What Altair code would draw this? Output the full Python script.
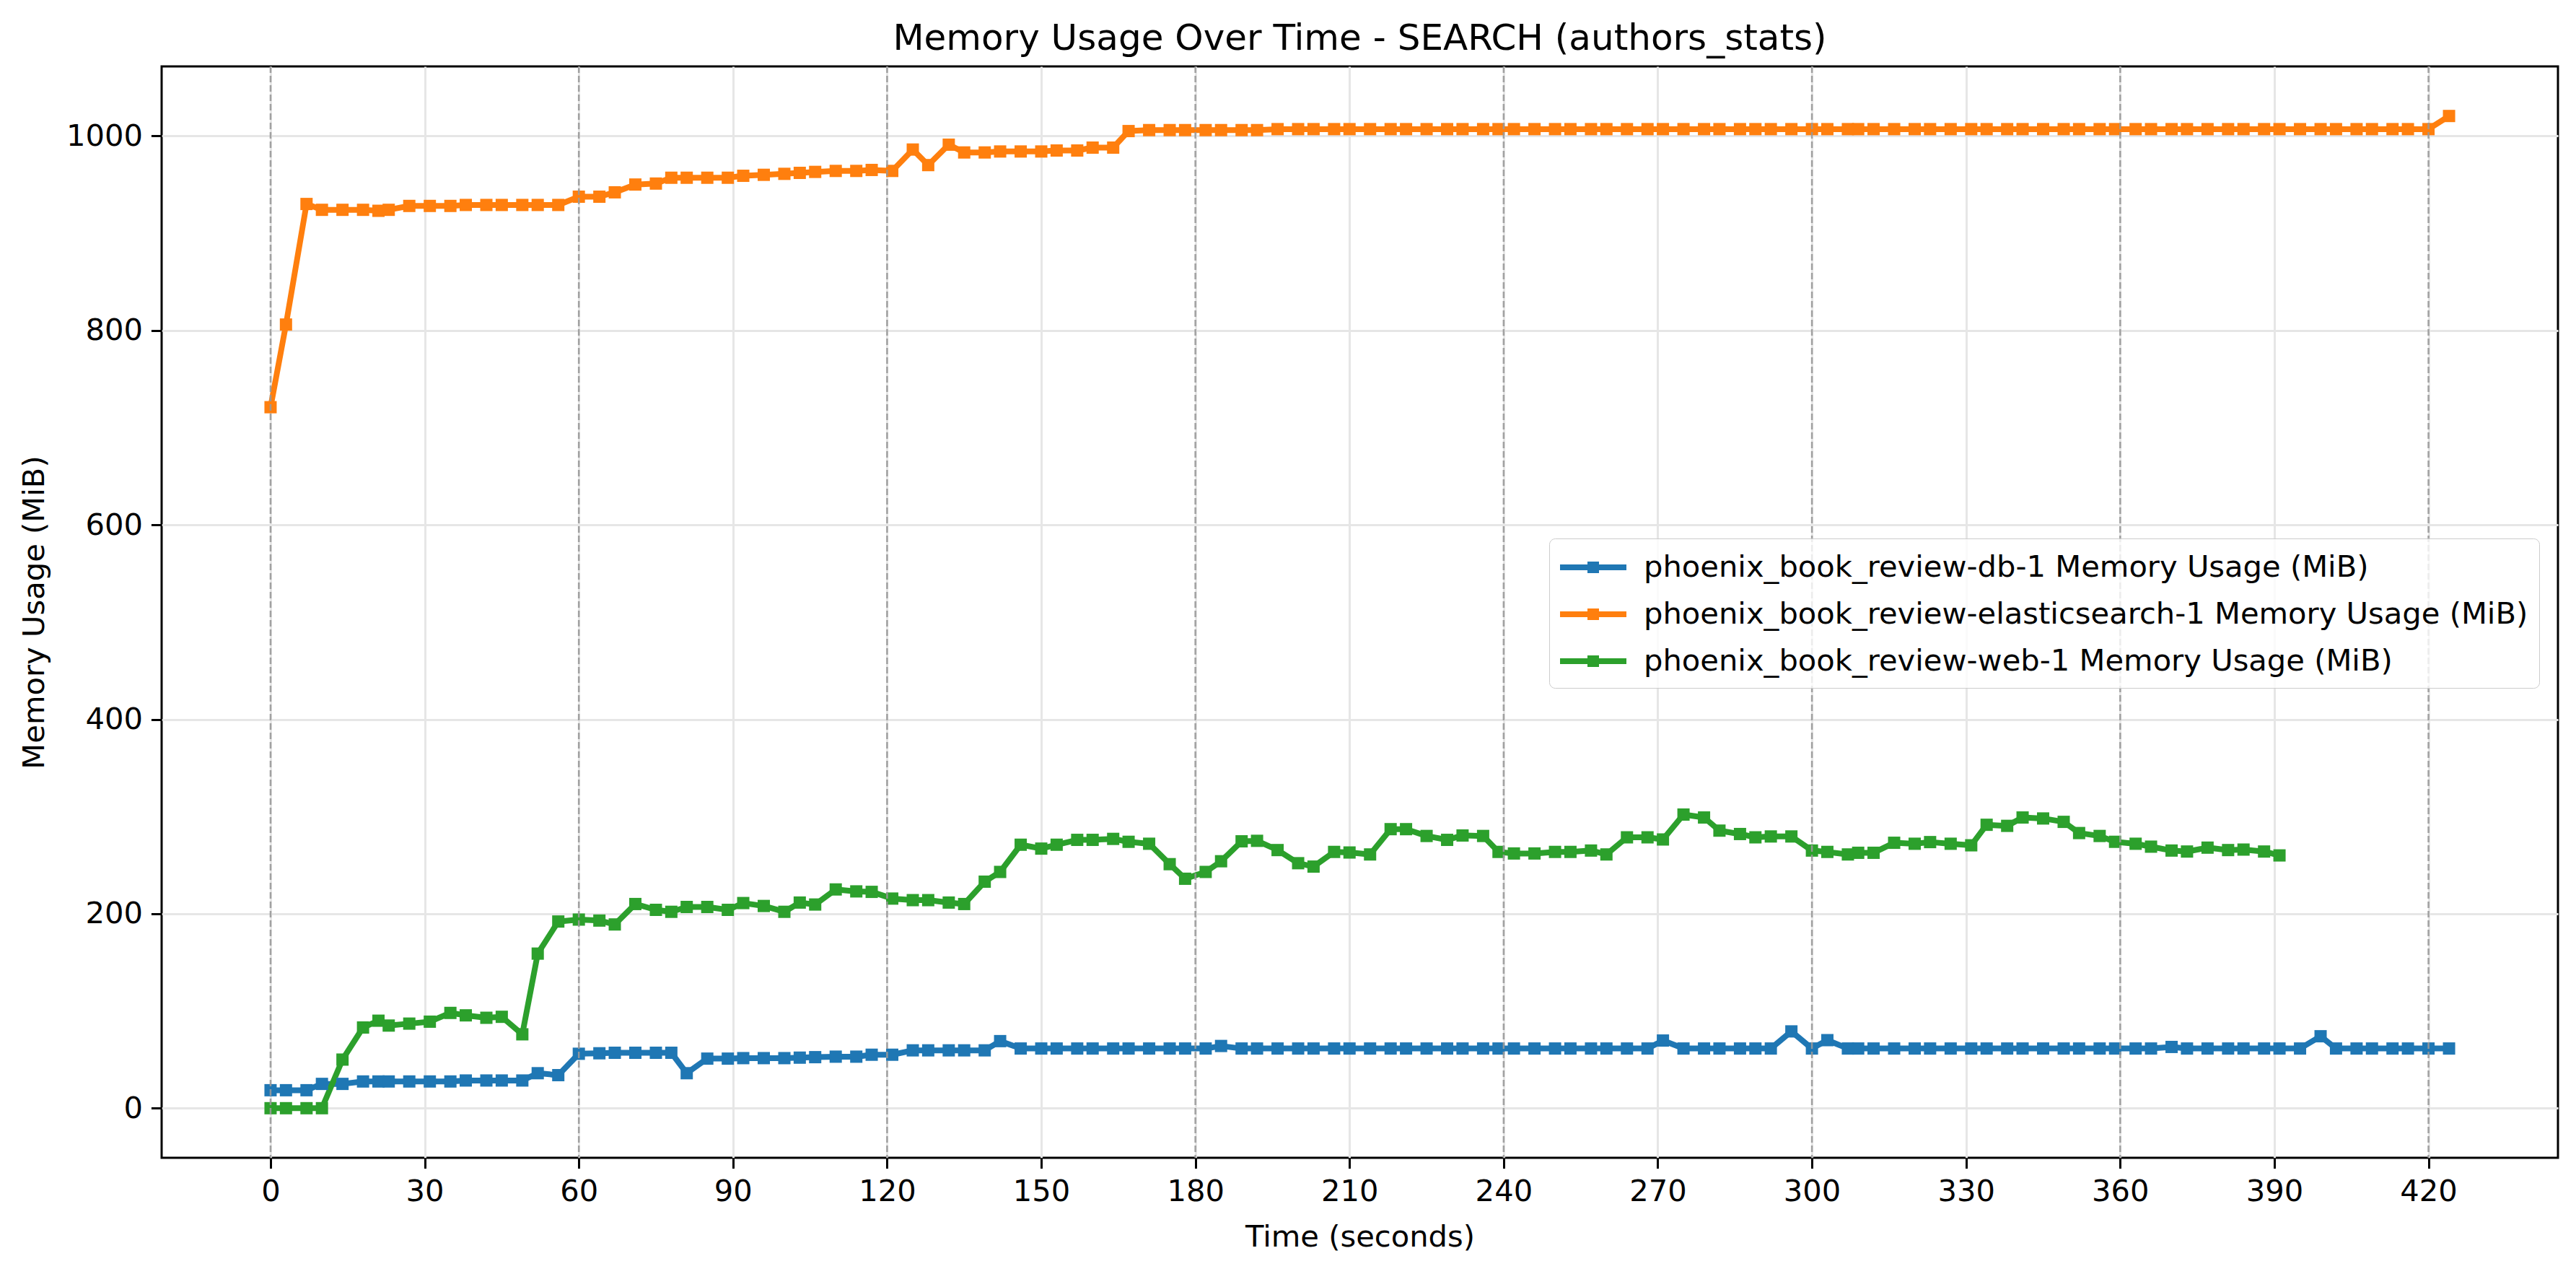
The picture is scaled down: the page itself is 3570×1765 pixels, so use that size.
import altair as alt
import pandas as pd

# Shared sample times (seconds)
times = [0, 3, 7, 10, 14, 18, 21, 23, 27, 31, 35, 38, 42, 45, 49, 52, 56, 60, 64, 67,
         71, 75, 78, 81, 85, 89, 92, 96, 100, 103, 106, 110, 114, 117, 121, 125, 128, 132, 135, 139,
         142, 146, 150, 153, 157, 160, 164, 167, 171, 175, 178, 182, 185, 189, 192, 196, 200, 203, 207, 210,
         214, 218, 221, 225, 229, 232, 236, 239, 242, 246, 250, 253, 257, 260, 264, 268, 271, 275, 279, 282,
         286, 289, 292, 296, 300, 303, 307, 309, 312, 316, 320, 323, 327, 331, 334, 338, 341, 345, 349, 352,
         356, 359, 363, 366, 370, 373, 377, 381, 384, 388, 391, 395, 399, 402, 406, 409, 413, 416, 420, 424]

db_mem = [18.5, 18.5, 18.5, 25, 25, 27.5, 27.5, 27.5, 27.5, 27.5, 27.5, 28.5, 28.5, 28.5, 28.5, 36, 34, 56, 56.5, 57,
          57, 57, 57, 36, 51, 51, 51.5, 51.5, 51.5, 52, 52.5, 53, 53, 55, 55, 59.5, 59.5, 59.5, 59.5, 59.5,
          69, 61.4, 61.4, 61.4, 61.4, 61.4, 61.4, 61.4, 61.4, 61.4, 61.4, 61.4, 64, 61.4, 61.4, 61.4, 61.4, 61.4, 61.4, 61.4,
          61.4, 61.4, 61.4, 61.4, 61.4, 61.4, 61.4, 61.4, 61.4, 61.4, 61.4, 61.4, 61.4, 61.4, 61.4, 61.4, 69.6, 61.4, 61.4, 61.4,
          61.4, 61.4, 61.4, 79, 61.4, 70, 61.4, 61.4, 61.4, 61.4, 61.4, 61.4, 61.4, 61.4, 61.4, 61.4, 61.4, 61.4, 61.4, 61.4,
          61.4, 61.4, 61.4, 61.4, 63, 61.4, 61.4, 61.4, 61.4, 61.4, 61.4, 61.4, 74, 61.4, 61.4, 61.4, 61.4, 61.4, 61.4, 61.4]

es_mem = [721, 806, 930, 924, 924, 924, 923, 924, 928, 928, 928, 929, 929, 929, 929, 929, 929, 937.5, 937.5, 942,
          950, 951, 957, 957, 957, 957, 959, 960, 961, 962, 963, 964, 964, 965, 964, 986, 970, 991, 983, 983,
          984, 984, 984, 985, 985, 988, 988, 1005, 1006, 1006, 1006, 1006, 1006, 1006, 1006, 1007, 1007, 1007, 1007, 1007,
          1007, 1007, 1007, 1007, 1007, 1007, 1007, 1007, 1007, 1007, 1007, 1007, 1007, 1007, 1007, 1007, 1007, 1007, 1007, 1007,
          1007, 1007, 1007, 1007, 1007, 1007, 1007, 1007, 1007, 1007, 1007, 1007, 1007, 1007, 1007, 1007, 1007, 1007, 1007, 1007,
          1007, 1007, 1007, 1007, 1007, 1007, 1007, 1007, 1007, 1007, 1007, 1007, 1007, 1007, 1007, 1007, 1007, 1007, 1007, 1020.5]

web_mem = [0, 0, 0, 0, 50, 83, 90, 85, 87, 89, 98, 95.5, 93, 94, 76, 159, 192, 194, 193, 189,
           210, 204, 202, 207, 207, 204, 211, 208, 202, 211.5, 209.5, 225, 223, 222.5, 215.6, 214, 214, 211.5, 210, 233,
           243, 271, 267, 271, 276, 276, 277, 274, 272, 251, 236, 243, 254, 274.5, 275, 265.5, 252, 248.5, 263.6, 263,
           261, 287, 287, 280, 276, 280.5, 280, 263.6, 262, 262, 263.6, 263.6, 265, 261, 278.6, 278.6, 276.4, 302, 299, 285.5,
           282, 278.6, 279.5, 279.5, 265, 263.6, 261, 262.7, 262.7, 273, 272, 273.7, 272, 270.4, 291.5, 290.4, 299, 298, 294.5, 283,
           280, 274, 272, 269, 265, 264, 268, 265.5, 266, 264, 260]

series_names = [
    "phoenix_book_review-db-1 Memory Usage (MiB)",
    "phoenix_book_review-elasticsearch-1 Memory Usage (MiB)",
    "phoenix_book_review-web-1 Memory Usage (MiB)",
]
series_colors = ["#1f77b4", "#ff7f0e", "#2ca02c"]
x_ticks = list(range(0, 421, 30))
y_ticks = list(range(0, 1001, 200))
minute_marks = list(range(0, 421, 60))

rows = []
for name, vals in zip(series_names, [db_mem, es_mem, web_mem]):
    for t, v in zip(times, vals):
        rows.append({"time": t, "mem": v, "series": name})
df = pd.DataFrame(rows)
vlines = pd.DataFrame({"t": minute_marks})

FONT = "DejaVu Sans"
x_scale = alt.Scale(domain=[-21.2, 445.2], nice=False, zero=False)
y_scale = alt.Scale(domain=[-51, 1071.5], nice=False, zero=False)

# legend glyph: line with a square marker (unit = 21 px)
legend_path = ("M-1.19,0L3.19,0 "
               "M0.81,-0.19L1.19,-0.19L1.19,0.19L0.81,0.19Z")

lines = alt.Chart(df).mark_line(
    strokeWidth=8, strokeJoin="round", strokeCap="square",
    point=alt.OverlayMarkDef(shape="square", size=289, filled=True, opacity=1),
).encode(
    x=alt.X("time:Q", scale=x_scale,
            axis=alt.Axis(values=x_ticks, title="Time (seconds)", format="d")),
    y=alt.Y("mem:Q", scale=y_scale,
            axis=alt.Axis(values=y_ticks, title="Memory Usage (MiB)", format="d")),
    color=alt.Color("series:N",
                    scale=alt.Scale(domain=series_names, range=series_colors),
                    legend=alt.Legend(
                        title=None, orient="none", legendX=1923, legendY=654,
                        symbolType=legend_path, symbolSize=1764, symbolStrokeWidth=8,
                        labelFontSize=41.67, labelFont=FONT, labelColor="black",
                        labelOffset=66, rowPadding=18, padding=15,
                        fillColor="rgba(255,255,255,0.8)", strokeColor="#cccccc",
                        cornerRadius=8, labelLimit=2000,
                    )),
    order=alt.Order("time:Q"),
)

rules = alt.Chart(vlines).mark_rule(
    color="#999999", strokeWidth=2.5, strokeDash=[9, 4], opacity=0.9
).encode(x=alt.X("t:Q", scale=x_scale))

chart = alt.layer(lines, rules).properties(
    width=3321, height=1512,
    title=alt.TitleParams("Memory Usage Over Time - SEARCH (authors_stats)",
                          fontSize=50, font=FONT, fontWeight="normal",
                          anchor="middle", baseline="alphabetic", offset=-28,
                          color="black"),
    autosize=alt.AutoSizeParams(type="none"),
    padding={"left": 216, "top": 84, "right": 12, "bottom": 140},
).configure_view(
    stroke="black", strokeWidth=3
).configure_axis(
    domain=False, grid=True, gridColor="#e6e6e6", gridWidth=3,
    ticks=True, tickColor="black", tickWidth=3, tickSize=14.6,
    labelFontSize=41.67, labelFont=FONT, labelColor="black", labelPadding=12,
    titleFontSize=41.67, titleFont=FONT, titleFontWeight="normal", titleColor="black",
).configure_axisX(
    titlePadding=21
).configure_axisY(
    titlePadding=22
)

chart.save("out.html", embed_options={"renderer": "svg", "actions": False})
